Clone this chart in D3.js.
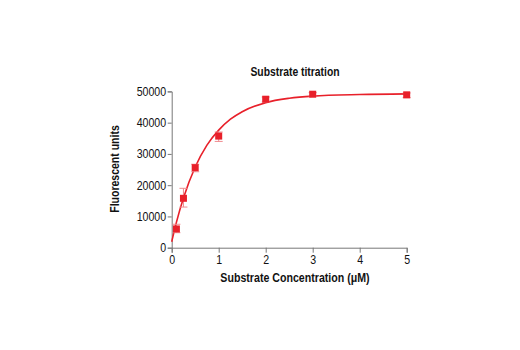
<!DOCTYPE html>
<html><head><meta charset="utf-8">
<script src="https://cdn.jsdelivr.net/npm/d3@7"></script>
<style>
body{margin:0;background:#fff;}
text{font-family:"Liberation Sans",Arial,sans-serif;}
</style></head>
<body><svg id="c" width="520" height="350"></svg>
<script>
const concentrations = [0.1, 0.25, 0.5, 1, 2, 3, 5];
const fluorescence = [6000, 15800, 25600, 35700, 47500, 49100, 48900];
const errLow = [4800, 13000, 24300, 34000, 46600, 48500, 48000];
const errHigh = [7500, 19000, 26700, 37000, 48200, 49600, 49500];
const fitX = [0, 0.1, 0.25, 0.5, 0.75, 1, 1.25, 1.5, 2, 2.5, 3, 4, 5];
const fitY = [1900, 8100, 15900, 25800, 32800, 37600, 41100, 43500, 46400, 47800, 48500, 49000, 49200];
const xTicks = [0, 1, 2, 3, 4, 5];
const yTicks = [0, 10000, 20000, 30000, 40000, 50000];
const title = "Substrate titration";
const xLabel = "Substrate Concentration (\u03BCM)";
const yLabel = "Fluorescent units";

const red = "#e8202a";
const svg = d3.select("#c");
const x = d3.scaleLinear().domain([0, 5]).range([171.7, 406.7]);
const y = d3.scaleLinear().domain([0, 50000]).range([247.7, 91.4]);

const xAxis = svg.append("g").attr("transform", `translate(0,${y(0)})`)
  .call(d3.axisBottom(x).tickValues(xTicks).tickFormat(d3.format("d")).tickSizeOuter(0).tickSize(5));
const yAxis = svg.append("g").attr("transform", `translate(${x(0)},0)`)
  .call(d3.axisLeft(y).tickValues(yTicks).tickFormat(d3.format("d")).tickSizeOuter(0).tickSize(4));
[xAxis, yAxis].forEach(a => {
  a.select(".domain").attr("stroke", "#777").attr("stroke-width", 1);
  a.selectAll(".tick line").attr("stroke", "#777");
  a.selectAll(".tick text").attr("font-size", 12.5).attr("fill", "#111")
   .attr("font-family", '"Liberation Sans",Arial,sans-serif')
   .attr("transform", "scale(0.85,1)");
});
xAxis.selectAll(".tick text").attr("dy", "0.85em").attr("y", 6);
yAxis.selectAll(".tick text").attr("x", -6.5);

// fit curve
const line = d3.line().x((d,i) => x(fitX[i])).y((d,i) => y(fitY[i])).curve(d3.curveMonotoneX);
svg.append("path").datum(fitY).attr("d", line).attr("fill", "none").attr("stroke", red).attr("stroke-width", 1.6);

// error bars
const eb = svg.append("g").attr("stroke", "#ef8a8e").attr("stroke-width", 1);
concentrations.forEach((c, i) => {
  const cx = x(c);
  eb.append("line").attr("x1", cx).attr("x2", cx).attr("y1", y(errLow[i])).attr("y2", y(errHigh[i]));
  eb.append("line").attr("x1", cx - 4).attr("x2", cx + 4).attr("y1", y(errLow[i])).attr("y2", y(errLow[i]));
  eb.append("line").attr("x1", cx - 4).attr("x2", cx + 4).attr("y1", y(errHigh[i])).attr("y2", y(errHigh[i]));
});

// markers
svg.append("g").selectAll("rect").data(concentrations).join("rect")
  .attr("x", d => x(d) - 3.5).attr("y", (d,i) => y(fluorescence[i]) - 3.5)
  .attr("width", 7).attr("height", 7).attr("fill", red);

svg.append("text").attr("transform", "translate(295,76) scale(0.83,1)").attr("text-anchor", "middle")
  .attr("font-size", 12.5).attr("font-weight", "bold").attr("fill", "#111").text(title);
svg.append("text").attr("transform", "translate(295,282) scale(0.85,1)").attr("text-anchor", "middle")
  .attr("font-size", 12.5).attr("font-weight", "bold").attr("fill", "#111").text(xLabel);
svg.append("text").attr("transform", "translate(119,169) rotate(-90) scale(0.84,1)").attr("text-anchor", "middle")
  .attr("font-size", 12.5).attr("font-weight", "bold").attr("fill", "#111").text(yLabel);
</script></body></html>
